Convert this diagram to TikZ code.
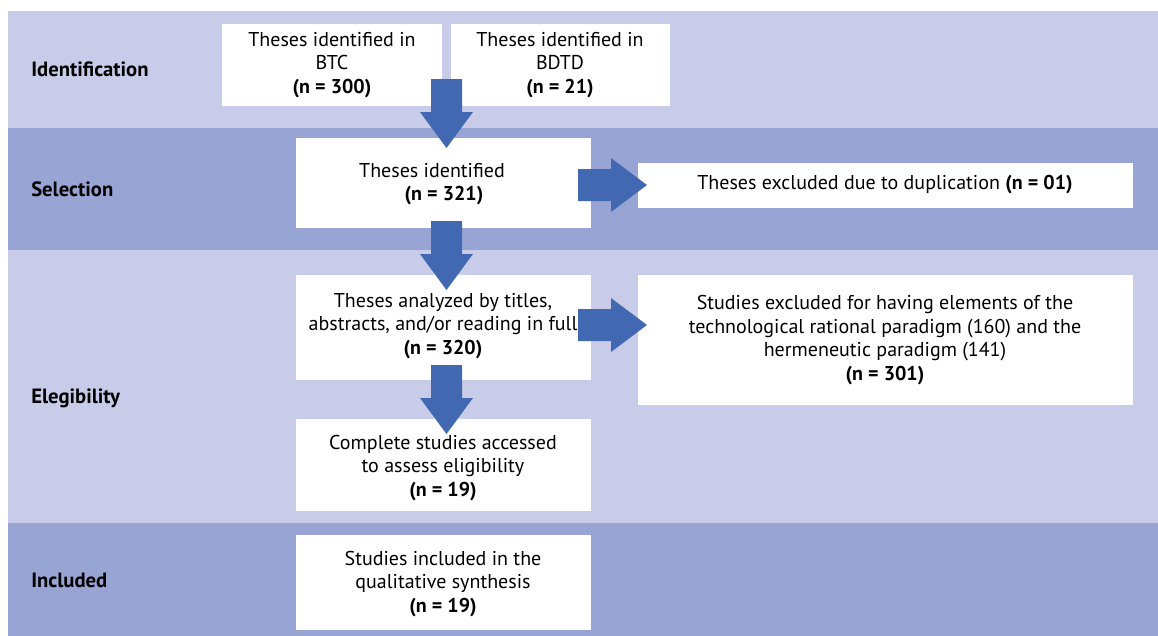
\documentclass[tikz,border=0pt]{standalone}
\usepackage{fontspec}
\setmainfont{PT Sans}
\usetikzlibrary{shapes.arrows}
\definecolor{bandlight}{HTML}{C8CCE8}
\definecolor{banddark}{HTML}{98A5D4}
\definecolor{arrowblue}{HTML}{4368B2}
\begin{document}
\begin{tikzpicture}[x=0.75pt,y=-0.75pt,
  box/.style={fill=white,draw=none,align=center,inner sep=0pt,
    font=\fontsize{15}{17.8}\selectfont},
  lab/.style={anchor=west,inner sep=0pt,font=\fontsize{15.5}{18}\selectfont\bfseries},
]
\useasboundingbox (0,0) rectangle (1158,636);
% bands
\fill[bandlight] (8,11) rectangle (1158,128);
\fill[banddark] (8,128) rectangle (1158,250);
\fill[bandlight] (8,250) rectangle (1158,523);
\fill[banddark] (8,523) rectangle (1158,636);
% labels
\node[lab] (lid) at (31,69) {Identification};
\node[lab] (lsel) at (31,189) {Selection};
\node[lab] (lel) at (31,398) {Elegibility};
\node[lab] (linc) at (31,580) {Included};
% boxes
\fill[white] (222,24) rectangle (442,106);
\node[box] (btc) at (332,65) {Theses identified in\\BTC\\\textbf{(n = 300)}};
\fill[white] (451,24) rectangle (670,106);
\node[box] (bdtd) at (560,65) {Theses identified in\\BDTD\\\textbf{(n = 21)}};
\fill[white] (296,138) rectangle (591,228);
\node[box] (ident) at (432,184) {Theses identified\\\hspace*{1.2em}\textbf{(n = 321)}};
\fill[white] (638,163) rectangle (1133,208);
\node[box] (dup) at (885,185) {Theses excluded due to duplication \textbf{(n = 01)}};
\fill[white] (296,275) rectangle (591,380);
\node[box] (anal) at (443,326) {Theses analyzed by titles,\\abstracts, and/or reading in full\\\textbf{(n = 320)}};
\fill[white] (638,275) rectangle (1133,405);
\node[box] (excl) at (885,340) {Studies excluded for having elements of the\\technological rational paradigm (160) and the\\hermeneutic paradigm (141)\\\textbf{(n = 301)}};
\fill[white] (296,419) rectangle (591,511);
\node[box] (comp) at (443,468) {Complete studies accessed\\to assess eligibility\\\textbf{(n = 19)}};
\fill[white] (296,535) rectangle (591,630);
\node[box] (incl) at (443,584) {Studies included in the\\qualitative synthesis\\\textbf{(n = 19)}};
% down arrows (block)
\foreach \t in {79,221,365}{
  \fill[arrowblue] (431,\t) -- (462,\t) -- (462,\t+33) -- (473,\t+33)
    -- (446.5,\t+69) -- (420,\t+33) -- (431,\t+33) -- cycle;
}
% right arrows
\foreach \c in {185,325}{
  \fill[arrowblue] (578,\c-16) -- (611,\c-16) -- (611,\c-27) -- (647,\c)
    -- (611,\c+27) -- (611,\c+16) -- (578,\c+16) -- cycle;
}
\end{tikzpicture}
\end{document}
